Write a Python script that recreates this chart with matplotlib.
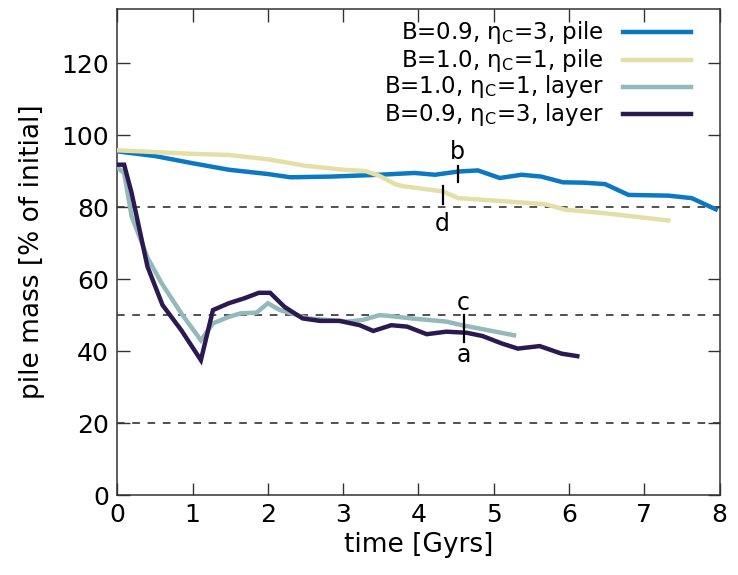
import numpy as np
import matplotlib
matplotlib.use('Agg')
import matplotlib.pyplot as plt

plt.rcParams['font.family'] = ['DejaVu Sans']
plt.rcParams['mathtext.fontset'] = 'dejavusans'

# pile mass over time, % of initial
t_pile_09 = [0.0, 0.5, 1.0, 1.48, 2.0, 2.3, 2.85, 3.48, 3.95, 4.22, 4.53, 4.79, 5.08, 5.37,
             5.63, 5.92, 6.2, 6.48, 6.79, 7.32, 7.63, 7.95]
m_pile_09 = [95.5, 94.2, 92.2, 90.4, 89.2, 88.3, 88.5, 89.0, 89.5, 89.0, 89.9, 90.2, 88.1, 89.0,
             88.5, 86.9, 86.8, 86.4, 83.4, 83.2, 82.5, 79.4]

t_pile_10 = [0.0, 0.5, 1.0, 1.48, 2.0, 2.5, 3.0, 3.3, 3.48, 3.69, 3.8, 4.32, 4.53,
             5.16, 5.69, 5.95, 6.48, 7.32]
m_pile_10 = [95.8, 95.3, 94.8, 94.5, 93.3, 91.5, 90.4, 90.0, 88.7, 86.4, 85.8, 84.4, 82.5,
             81.6, 80.8, 79.3, 78.3, 76.3]

t_layer_10 = [0.0, 0.09, 0.19, 0.4, 0.59, 0.85, 1.11, 1.27, 1.48, 1.64, 1.85, 2.0, 2.16,
              2.53, 3.06, 3.27, 3.48, 3.6, 3.9, 4.37, 4.58, 5.27]
m_layer_10 = [91.0, 89.5, 77.4, 66.0, 58.8, 50.5, 43.0, 47.7, 49.5, 50.5, 50.7, 53.3, 51.4,
              49.1, 48.2, 48.7, 50.0, 49.8, 49.1, 48.2, 47.2, 44.4]

t_layer_09 = [0.0, 0.09, 0.19, 0.4, 0.6, 0.85, 1.11, 1.27, 1.48, 1.69, 1.88, 2.03, 2.22,
              2.46, 2.69, 2.95, 3.22, 3.4, 3.64, 3.85, 4.11, 4.37, 4.64, 4.85, 5.11,
              5.32, 5.61, 5.9, 6.11]
m_layer_09 = [91.8, 91.8, 83.9, 63.5, 52.8, 45.8, 37.5, 51.4, 53.3, 54.7, 56.2, 56.2, 52.3,
              49.1, 48.4, 48.4, 47.2, 45.6, 47.2, 46.8, 44.7, 45.4, 45.1, 44.2, 42.1,
              40.7, 41.4, 39.3, 38.6]

labels = ['B=0.9, η$_\\mathrm{C}$=3, pile',
          'B=1.0, η$_\\mathrm{C}$=1, pile',
          'B=1.0, η$_\\mathrm{C}$=1, layer',
          'B=0.9, η$_\\mathrm{C}$=3, layer']
colors = ['#0a78c2', '#e3dfa6', '#93b9ba', '#2b1a52']

ref_levels = [20, 50, 80]

# marked points: time, tick span, letter and its height
marks_t = [4.52, 4.32, 4.60, 4.60]
marks_lo = [86.9, 80.9, 46.5, 42.6]
marks_hi = [91.3, 85.9, 50.0, 46.5]
marks_txt = ['b', 'd', 'c', 'a']
marks_y = [95.3, 75.3, 53.5, 39.0]

fig = plt.figure(figsize=(7.38, 5.75), dpi=100)
ax = fig.add_axes([0.159, 0.139, 0.816, 0.845])

series = [(t_pile_09, m_pile_09), (t_pile_10, m_pile_10),
          (t_layer_10, m_layer_10), (t_layer_09, m_layer_09)]
for lev in ref_levels:
    ax.axhline(lev, color='#222222', lw=1.1, ls=(0, (5, 5)), zorder=1)
for (tt, mm), c in zip(series, colors):
    ax.plot(tt, mm, color=c, lw=3.2, solid_joinstyle='miter', zorder=3)

for i in range(len(marks_t)):
    ax.plot([marks_t[i], marks_t[i]], [marks_lo[i], marks_hi[i]], color='black', lw=1.6, zorder=4)
    ax.text(marks_t[i], marks_y[i], marks_txt[i], ha='center', va='center', fontsize=17)

# legend drawn by hand: right-aligned text, sample line on the right
ly = [0.953, 0.895, 0.840, 0.784]
for lab, c, y in zip(labels, colors, ly):
    ax.text(0.808, y, lab, transform=ax.transAxes, ha='right', va='center', fontsize=16.5)
    ax.plot([0.84, 0.953], [y, y], transform=ax.transAxes, color=c, lw=3.2)

ax.set_xlim(0, 8)
ax.set_ylim(0, 135)
ax.set_xticks(range(0, 9))
ax.set_yticks(range(0, 121, 20))
ax.tick_params(direction='in', length=9, width=1, top=True, right=True,
               labelsize=18, color='#333333', pad=6)
for s in ax.spines.values():
    s.set_color('#333333')
    s.set_linewidth(1.1)
ax.set_xlabel('time [Gyrs]', fontsize=19, labelpad=3)
ax.set_ylabel('pile mass [% of initial]', fontsize=19, labelpad=12)

fig.savefig('out.png', dpi=100)
